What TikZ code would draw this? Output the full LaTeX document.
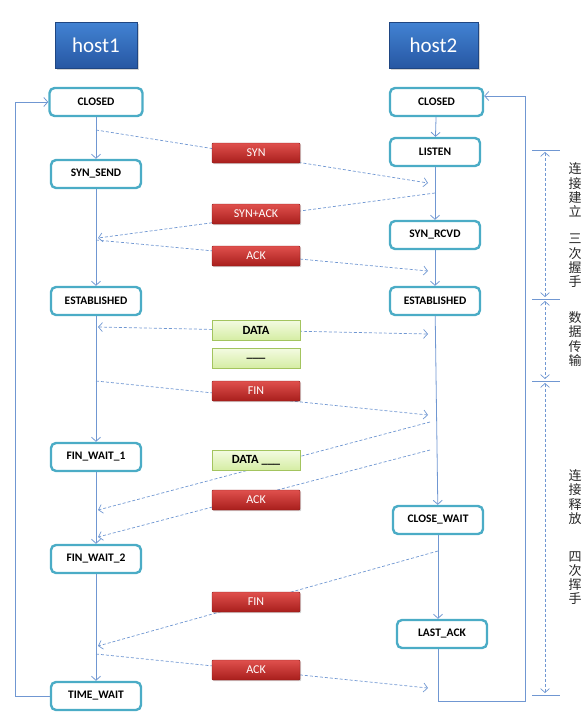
\documentclass[tikz,border=0pt]{standalone}
\usepackage{fontspec}
\setmainfont{Carlito}
\newfontfamily\cjk{Noto Sans CJK SC}
\usetikzlibrary{arrows.meta}
\usetikzlibrary{shadows}
\definecolor{lineblue}{HTML}{7097D2}
\definecolor{stateaqua}{HTML}{4BACC6}
\definecolor{redtop}{HTML}{E0504D}
\definecolor{redbot}{HTML}{A81E1C}
\definecolor{redrim}{HTML}{8C1A18}
\definecolor{greentop}{HTML}{F4FBE2}
\definecolor{greenbot}{HTML}{D5EDA4}
\definecolor{greenrim}{HTML}{A3C45E}
\definecolor{hosttop}{HTML}{4283D3}
\definecolor{hostbot}{HTML}{2757A3}
\tikzset{state/.style = {draw=stateaqua, line width=2.4pt, rounded corners=5pt, fill=white,
                         minimum width=90, minimum height=28, inner sep=0,
                         font=\bfseries\fontsize{11.5}{12}\selectfont}}
\tikzset{hostbox/.style = {top color=hosttop, bottom color=hostbot, draw=hostbot!80!black, line width=0.4pt,
                           minimum width=82, minimum height=46, text=white,
                           drop shadow={shadow xshift=1.5pt, shadow yshift=-1.5pt, opacity=0.35},
                           font=\fontsize{21}{24}\selectfont}}
\tikzset{redmsg/.style = {top color=redtop, bottom color=redbot, draw=redrim, line width=0.4pt,
                          rounded corners=1pt, minimum width=88, minimum height=20, inner sep=0, text=white,
                          drop shadow={shadow xshift=1.2pt, shadow yshift=-1.2pt, opacity=0.35},
                          font=\fontsize{12}{13}\selectfont}}
\tikzset{greenmsg/.style = {top color=greentop, bottom color=greenbot, draw=greenrim, line width=0.6pt,
                            minimum width=88, minimum height=20, inner sep=0,
                            font=\bfseries\fontsize{12.5}{13}\selectfont}}
\tikzset{flow/.style = {draw=lineblue, line width=0.8pt, ->}}
\tikzset{msg/.style = {draw=lineblue, line width=0.7pt, dash pattern=on 3pt off 2pt}}
\tikzset{tick/.style = {draw=lineblue, line width=0.8pt}}
\tikzset{side/.style = {align=center, text=black!85, inner sep=0, font=\cjk\fontsize{13}{14.25}\selectfont}}

\begin{document}
\begin{tikzpicture}[x=1pt, y=-1pt, >={Straight Barb[length=4pt, width=9pt]}]
    \useasboundingbox (0,0) rectangle (581,720);

    \node [hostbox] (host1) at (96,45) {host1};
    \node [hostbox, minimum width=89] (host2) at (433.5,45) {host2};

    % host1 side
    \node [state, minimum width=93] (closedL) at (96,102) {CLOSED};
    \node [state] (synsend) at (96,174) {SYN\_SEND};
    \node [state] (estL) at (96,301) {ESTABLISHED};
    \node [state] (finwait1) at (96,457) {FIN\_WAIT\_1};
    \node [state] (finwait2) at (96,559) {FIN\_WAIT\_2};
    \node [state] (timewait) at (96,696) {TIME\_WAIT};

    % host2 side
    \node [state, minimum width=93] (closedR) at (436.5,102) {CLOSED};
    \node [state] (listen) at (435,152) {LISTEN};
    \node [state] (synrcvd) at (435,235) {SYN\_RCVD};
    \node [state] (estR) at (435,301) {ESTABLISHED};
    \node [state] (closewait) at (438,520) {CLOSE\_WAIT};
    \node [state] (lastack) at (442,634) {LAST\_ACK};

    \draw [flow] (closedL) -- (synsend);
    \draw [flow] (synsend) -- (estL);
    \draw [flow] (estL) -- (finwait1);
    \draw [flow] (finwait1) -- (finwait2);
    \draw [flow] (finwait2) -- (timewait);

    \draw [flow] (closedR) -- (listen);
    \draw [flow] (listen) -- (synrcvd);
    \draw [flow] (synrcvd) -- (estR);
    \draw [flow] (estR) -- (closewait);
    \draw [flow] (closewait.south) -- (closewait.south |- lastack.north);

    \coordinate (loopL) at (15,102);
    \coordinate (loopR) at (525,701);
    \draw [flow] (timewait.west) -| (loopL) -- (closedL.west);
    \draw [flow] (closewait.south |- lastack.south) |- (loopR) |- ([yshift=6pt]closedR.east);

    % message end points
    \coordinate (synA) at (96,130);      \coordinate (synB) at (428,183);
    \coordinate (synackA) at (435,193);  \coordinate (synackB) at (98,238);
    \coordinate (ackA) at (96,240);      \coordinate (ackB) at (428,271);
    \coordinate (dataA) at (98,327);     \coordinate (dataB) at (428,334);
    \coordinate (finA) at (96,381);      \coordinate (finB) at (428,415);
    \coordinate (data2A) at (430,422);   \coordinate (data2B) at (98,510);
    \coordinate (ack2A) at (430,450);    \coordinate (ack2B) at (98,537);
    \coordinate (fin2A) at (438,551);    \coordinate (fin2B) at (98,646);
    \coordinate (ack3A) at (96,654);     \coordinate (ack3B) at (428,688);

    \draw [msg, ->] (synA) -- (synB);
    \draw [msg, ->] (synackA) -- (synackB);
    \draw [msg, ->] (ackA) -- (ackB);
    \draw [msg, <->] (dataA) -- (dataB);
    \draw [msg, ->] (finA) -- (finB);
    \draw [msg, ->] (data2A) -- (data2B);
    \draw [msg, ->] (ack2A) -- (ack2B);
    \draw [msg, ->] (fin2A) -- (fin2B);
    \draw [msg, ->] (ack3A) -- (ack3B);

    \node [redmsg] (synlbl) at (256,153) {SYN};
    \node [redmsg] (synacklbl) at (256,214) {SYN+ACK};
    \node [redmsg] (acklbl) at (256,256) {ACK};
    \node [greenmsg] (datalbl) at (256,330) {DATA};
    \node [greenmsg] (dotslbl) at (256,358) {\_\_\_};
    \node [redmsg] (finlbl) at (256,391) {FIN};
    \node [greenmsg] (data2lbl) at (256,460) {DATA \_\_\_};
    \node [redmsg] (ack2lbl) at (256,500) {ACK};
    \node [redmsg] (fin2lbl) at (256,602) {FIN};
    \node [redmsg] (ack3lbl) at (256,670) {ACK};

    % phases
    \foreach \n/\y in {a/150, b/299, c/381, d/695}
        \coordinate (dim\n) at (545,\y);
    \foreach \n in {a, b, c, d}
        \draw [tick] ([xshift=-13pt]dim\n) -- ([xshift=15pt]dim\n);
    \draw [msg, <->, shorten <=2pt, shorten >=2pt] (dima) -- (dimb);
    \draw [msg, <->, shorten <=2pt, shorten >=2pt] (dimb) -- (dimc);
    \draw [msg, <->, shorten <=2pt, shorten >=2pt] (dimc) -- (dimd);

    \node [side] (setup) at (575,190) {连\\接\\建\\立};
    \node [side] (shake3) at (575,261) {三\\次\\握\\手};
    \node [side] (transfer) at (575,339) {数\\据\\传\\输};
    \node [side] (release) at (575,497) {连\\接\\释\\放};
    \node [side] (shake4) at (575,578) {四\\次\\挥\\手};
  \end{tikzpicture}
\end{document}
